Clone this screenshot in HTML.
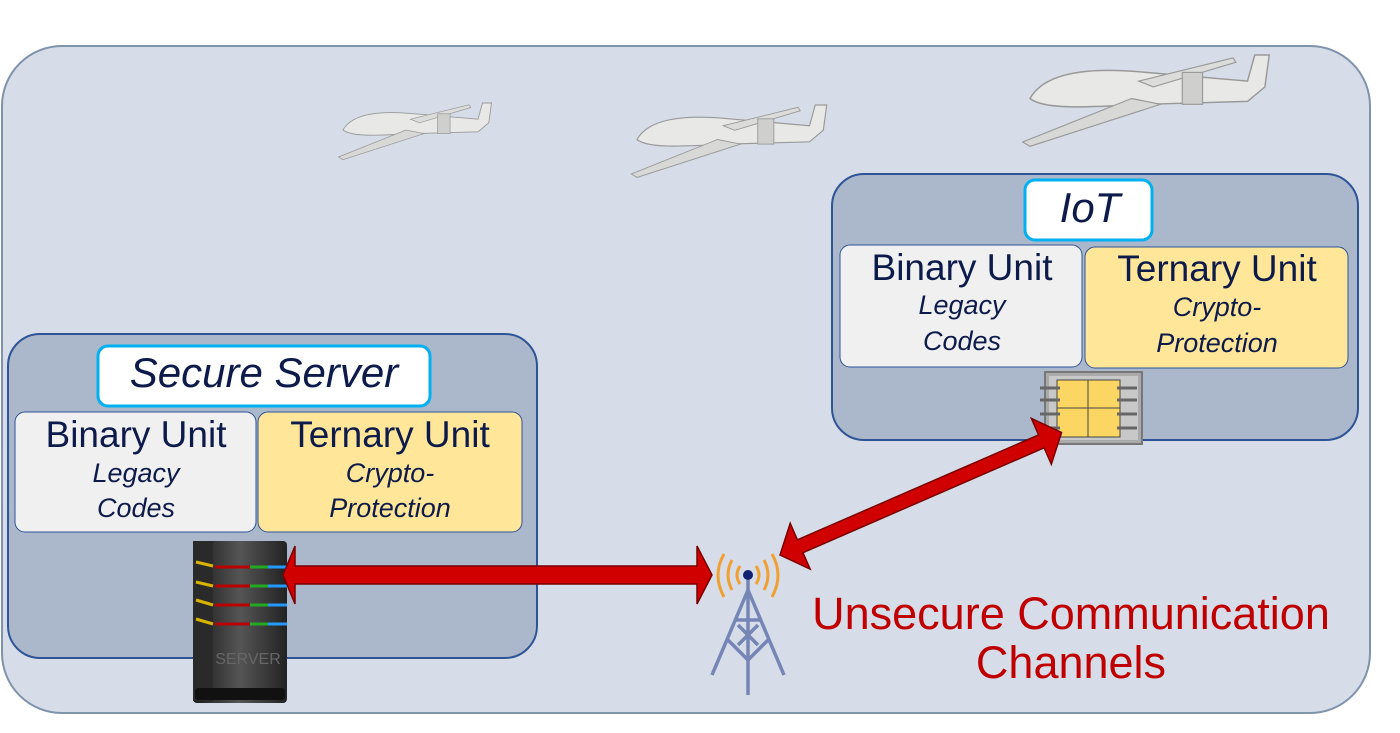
<!DOCTYPE html>
<html><head><meta charset="utf-8"><style>
html,body{margin:0;padding:0;background:#fff;}
svg{display:block;font-family:"Liberation Sans",sans-serif;}
</style></head><body>
<svg width="1400" height="733" viewBox="0 0 1400 733" xmlns="http://www.w3.org/2000/svg">
<defs>
<linearGradient id="srv" x1="0" x2="1"><stop offset="0" stop-color="#1a1a1a"/><stop offset="0.5" stop-color="#555"/><stop offset="1" stop-color="#222"/></linearGradient>
<g id="drone">
<path d="M0,30 C10,12 40,8 80,12 L150,18 L155,0 L165,0 L162,22 L150,32 L80,34 C40,36 10,38 0,30Z" fill="#e8e8e6" stroke="#999" stroke-width="1"/>
<path d="M70,30 L-5,60 L0,63 L90,34Z" fill="#d8d8d6" stroke="#999" stroke-width="0.8"/>
<path d="M75,18 L140,2 L142,5 L85,22Z" fill="#dcdcda" stroke="#999" stroke-width="0.8"/>
<rect x="105" y="12" width="14" height="22" fill="#cfcfcd" stroke="#999" stroke-width="0.8"/>
</g>
</defs>
<rect x="2" y="46" width="1368" height="667" rx="60" fill="#d6dde8" stroke="#7f93ad" stroke-width="2"/>
<use href="#drone" transform="translate(343,103) scale(0.9)"/>
<use href="#drone" transform="translate(637,105) scale(1.15)"/>
<use href="#drone" transform="translate(1030,55) scale(1.45)"/>

<rect x="8" y="334" width="529" height="324" rx="32" fill="#abb8cc" stroke="#2f5496" stroke-width="2"/>
<rect x="98" y="346" width="332" height="60" rx="10" fill="#fff" stroke="#00b0f0" stroke-width="3"/>
<text x="264" y="387" text-anchor="middle" font-size="42" font-style="italic" fill="#0d1b4b">Secure Server</text>
<rect x="15" y="412" width="241" height="120" rx="10" fill="#f0f0f0" stroke="#2f5496" stroke-width="1"/>
<rect x="258" y="412" width="264" height="120" rx="10" fill="#ffe699" stroke="#2f5496" stroke-width="1"/>
<text x="136" y="447" text-anchor="middle" font-size="37" fill="#0d1b4b">Binary Unit</text>
<text x="136" y="482" text-anchor="middle" font-size="27" font-style="italic" fill="#0d1b4b">Legacy</text>
<text x="136" y="517" text-anchor="middle" font-size="27" font-style="italic" fill="#0d1b4b">Codes</text>
<text x="390" y="447" text-anchor="middle" font-size="37" fill="#0d1b4b">Ternary Unit</text>
<text x="390" y="482" text-anchor="middle" font-size="27" font-style="italic" fill="#0d1b4b">Crypto-</text>
<text x="390" y="517" text-anchor="middle" font-size="27" font-style="italic" fill="#0d1b4b">Protection</text>

<rect x="832" y="174" width="526" height="266" rx="32" fill="#abb8cc" stroke="#2f5496" stroke-width="2"/>
<rect x="1025" y="180" width="127" height="60" rx="10" fill="#fff" stroke="#00b0f0" stroke-width="3"/>
<text x="1090" y="222" text-anchor="middle" font-size="42" font-style="italic" fill="#0d1b4b">IoT</text>
<rect x="840" y="245" width="242" height="122" rx="10" fill="#f0f0f0" stroke="#2f5496" stroke-width="1"/>
<rect x="1085" y="247" width="263" height="121" rx="10" fill="#ffe699" stroke="#2f5496" stroke-width="1"/>
<text x="962" y="280" text-anchor="middle" font-size="37" fill="#0d1b4b">Binary Unit</text>
<text x="962" y="314" text-anchor="middle" font-size="27" font-style="italic" fill="#0d1b4b">Legacy</text>
<text x="962" y="350" text-anchor="middle" font-size="27" font-style="italic" fill="#0d1b4b">Codes</text>
<text x="1217" y="281" text-anchor="middle" font-size="37" fill="#0d1b4b">Ternary Unit</text>
<text x="1217" y="316" text-anchor="middle" font-size="27" font-style="italic" fill="#0d1b4b">Crypto-</text>
<text x="1217" y="352" text-anchor="middle" font-size="27" font-style="italic" fill="#0d1b4b">Protection</text>
<!-- chip -->
<rect x="1045" y="372" width="97" height="72" fill="#aaa" stroke="#777" stroke-width="2"/>
<rect x="1049" y="376" width="89" height="64" fill="#c8c8c8"/>
<rect x="1057" y="380" width="63" height="57" fill="#fbd663" stroke="#444" stroke-width="1"/>
<line x1="1088" y1="380" x2="1088" y2="437" stroke="#444"/><line x1="1057" y1="408" x2="1120" y2="408" stroke="#444"/>
<g stroke="#666" stroke-width="3"><line x1="1040" y1="388" x2="1060" y2="388"/><line x1="1040" y1="400" x2="1060" y2="400"/><line x1="1040" y1="414" x2="1060" y2="414"/><line x1="1040" y1="428" x2="1060" y2="428"/><line x1="1117" y1="388" x2="1137" y2="388"/><line x1="1117" y1="400" x2="1137" y2="400"/><line x1="1117" y1="414" x2="1137" y2="414"/><line x1="1117" y1="428" x2="1137" y2="428"/></g>

<!-- server -->
<rect x="193" y="541" width="94" height="162" rx="4" fill="url(#srv)"/>
<rect x="193" y="541" width="20" height="160" fill="#2a2a2a"/>
<g stroke-width="3"><line x1="196" y1="562" x2="213" y2="566" stroke="#d8b400"/><line x1="215" y1="567" x2="250" y2="567" stroke="#b00"/><line x1="250" y1="567" x2="268" y2="567" stroke="#2a2"/><line x1="268" y1="567" x2="287" y2="567" stroke="#29f"/>
<line x1="196" y1="582" x2="213" y2="586" stroke="#d8b400"/><line x1="215" y1="586" x2="250" y2="586" stroke="#b00"/><line x1="250" y1="586" x2="268" y2="586" stroke="#2a2"/><line x1="268" y1="586" x2="287" y2="586" stroke="#29f"/>
<line x1="196" y1="600" x2="213" y2="605" stroke="#d8b400"/><line x1="215" y1="605" x2="250" y2="605" stroke="#b00"/><line x1="250" y1="605" x2="268" y2="605" stroke="#2a2"/><line x1="268" y1="605" x2="287" y2="605" stroke="#29f"/>
<line x1="196" y1="619" x2="213" y2="624" stroke="#d8b400"/><line x1="215" y1="624" x2="250" y2="624" stroke="#b00"/><line x1="250" y1="624" x2="268" y2="624" stroke="#2a2"/><line x1="268" y1="624" x2="287" y2="624" stroke="#29f"/></g>
<rect x="195" y="688" width="90" height="12" rx="3" fill="#111"/>
<text x="248" y="664" text-anchor="middle" font-size="16" fill="#666">SERVER</text>

<!-- arrows -->
<path d="M283,575 L295,546 L295,566 L697,566 L697,546 L712,575 L697,604 L697,584 L295,584 L295,604Z" fill="#d00000" stroke="#7a0000" stroke-width="1.5"/>
<g transform="translate(780,555) rotate(-23.5)">
<path d="M0,0 L22,-25 L22,-7 L285,-7 L285,-25 L307,0 L285,25 L285,7 L22,7 L22,25Z" fill="#d00000" stroke="#7a0000" stroke-width="1.5"/>
</g>

<!-- tower -->
<g stroke="#7585b5" stroke-width="3.5" fill="none">
<line x1="748" y1="580" x2="748" y2="695"/><line x1="748" y1="590" x2="712" y2="675"/><line x1="748" y1="590" x2="784" y2="675"/>
<line x1="735" y1="620" x2="761" y2="620"/><line x1="728" y1="640" x2="748" y2="660"/><line x1="768" y1="640" x2="748" y2="660"/><line x1="738" y1="625" x2="758" y2="645"/><line x1="758" y1="625" x2="738" y2="645"/>
</g>
<circle cx="748" cy="575" r="5" fill="#102070"/>
<g fill="none" stroke="#f0a030" stroke-width="3"><path d="M740,566 Q734,575 740,584"/><path d="M756,566 Q762,575 756,584"/><path d="M732,560 Q724,575 732,590"/><path d="M764,560 Q772,575 764,590"/><path d="M724,554 Q712,575 724,597"/><path d="M772,554 Q784,575 772,597"/></g>

<text x="1071" y="629" text-anchor="middle" font-size="45" fill="#c00000">Unsecure Communication</text>
<text x="1071" y="678" text-anchor="middle" font-size="45" fill="#c00000">Channels</text>
</svg>
</body></html>
